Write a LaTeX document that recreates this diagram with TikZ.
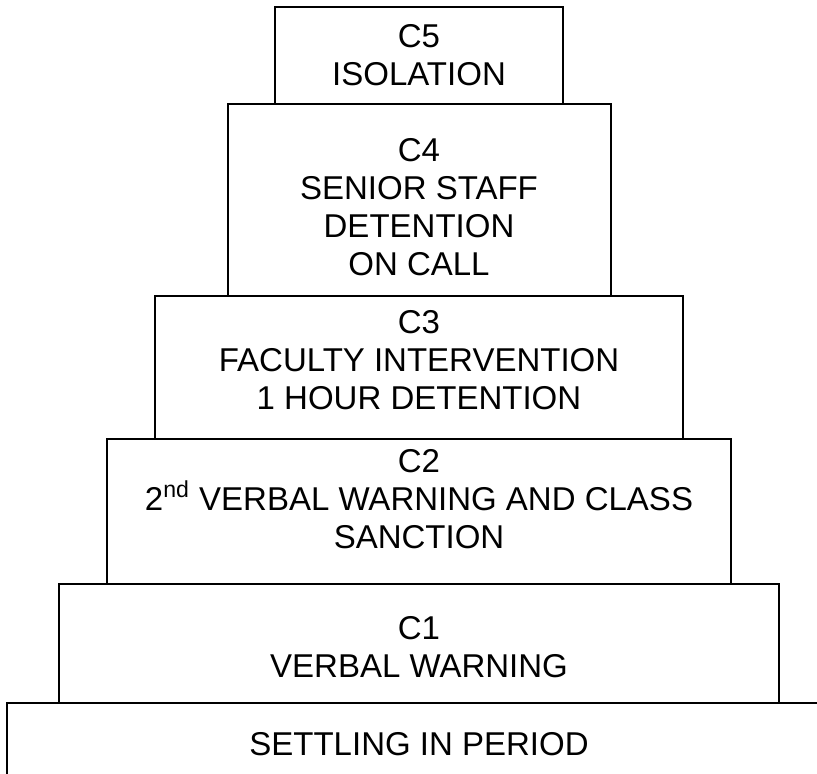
\documentclass[tikz,border=0pt]{standalone}
\usepackage{fontspec}
\setmainfont{Liberation Sans}
\begin{document}
\begin{tikzpicture}[x=0.5pt, y=-0.5pt,
  tier/.style={draw, line width=0.9pt},
  tiertext/.style={align=center, font=\fontsize{16.5}{19}\selectfont, inner sep=0}]
\useasboundingbox (0,0) rectangle (817,774);
\clip (0,0) rectangle (817,774);
% steps, top to bottom
\draw[tier] (275,7) rectangle (563,104);
\draw[tier] (228,104) rectangle (611,296);
\draw[tier] (155,296) rectangle (683,439);
\draw[tier] (107,439) rectangle (731,584);
\draw[tier] (59,584) rectangle (779,703);
\draw[tier] (7,703) rectangle (840,800);
% labels
\node[tiertext] (c5) at (419,55) {C5\\ISOLATION};
\node[tiertext] (c4) at (419,207) {C4\\SENIOR STAFF\\DETENTION\\ON CALL};
\node[tiertext] (c3) at (419,360) {C3\\FACULTY INTERVENTION\\1 HOUR DETENTION};
\node[tiertext] (c2) at (419,499) {C2\\2\textsuperscript{nd} VERBAL WARNING AND CLASS\\SANCTION};
\node[tiertext] (c1) at (419,647) {C1\\VERBAL WARNING};
\node[tiertext] (settle) at (419,744) {SETTLING IN PERIOD};
\end{tikzpicture}
\end{document}
